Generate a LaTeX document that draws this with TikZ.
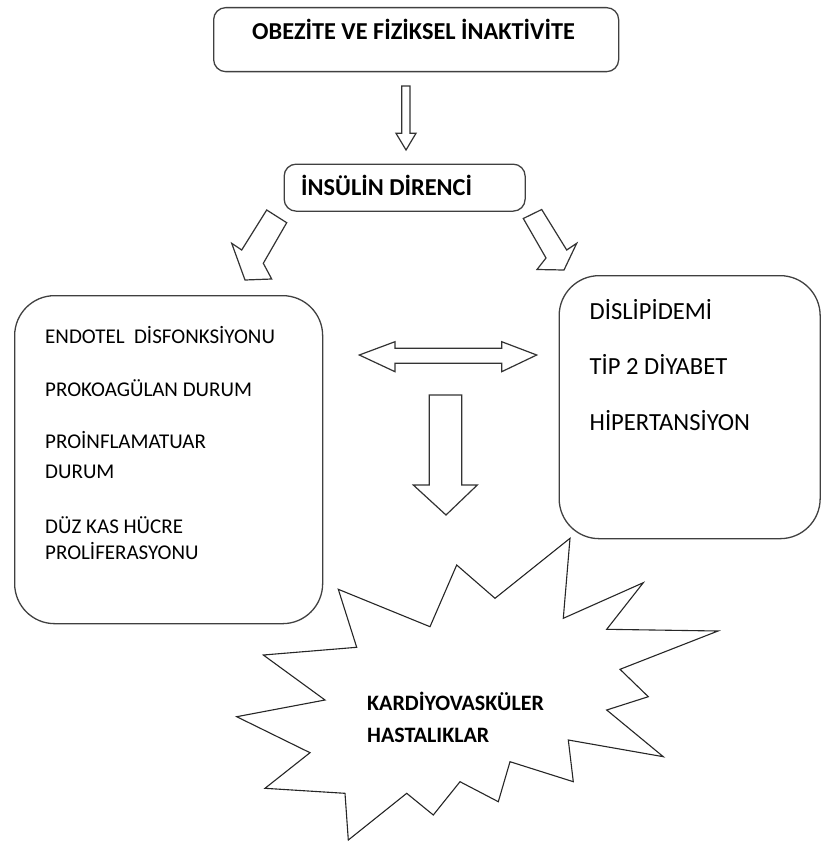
\documentclass[tikz,border=0pt]{standalone}
\usepackage{fontspec}
\setmainfont{Carlito}
\begin{document}
\begin{tikzpicture}[x=1pt,y=-1pt,
  smallbox/.style={draw=black!75, line width=1.3pt, rounded corners=12pt, inner sep=0pt, anchor=north west},
  bigbox/.style={draw=black!75, line width=1.3pt, rounded corners=40pt, inner sep=0pt, anchor=north west},
  blockarrow/.style={draw=black!80, line width=1.2pt, line join=miter, fill=white},
  burst/.style={draw=black!85, line width=1.1pt, line join=miter, fill=white},
  lefttxt/.style={anchor=base west, inner sep=0pt, font=\fontsize{21}{25}\selectfont},
  righttxt/.style={anchor=base west, inner sep=0pt, font=\fontsize{24.6}{28}\selectfont},
  boldtxt/.style={anchor=base west, inner sep=0pt, font=\bfseries\fontsize{24.3}{28}\selectfont},
  bursttxt/.style={anchor=base west, inner sep=0pt, font=\bfseries\fontsize{22}{26}\selectfont}]
\useasboundingbox (0,0) rectangle (821,843);

% boxes
\node[smallbox, minimum width=405pt, minimum height=64pt] (top) at (213,7) {};
\node[boldtxt] (toptxt) at (252,39.5) {OBEZİTE VE FİZİKSEL İNAKTİVİTE};

\node[smallbox, minimum width=241pt, minimum height=47pt] (ins) at (283.5,163.5) {};
\node[boldtxt] (instxt) at (301,195.5) {İNSÜLİN DİRENCİ};

\node[bigbox, minimum width=308pt, minimum height=328pt] (left) at (14,295) {};
\node[lefttxt] (l1) at (45,343) {ENDOTEL\ \ DİSFONKSİYONU};
\node[lefttxt] (l2) at (45,396.5) {PROKOAGÜLAN DURUM};
\node[lefttxt] (l3) at (45,448) {PROİNFLAMATUAR};
\node[lefttxt] (l4) at (45,478) {DURUM};
\node[lefttxt] (l5) at (45,533) {DÜZ KAS HÜCRE};
\node[lefttxt] (l6) at (45,559.5) {PROLİFERASYONU};

\node[bigbox, minimum width=261pt, minimum height=263pt] (right) at (558.5,275) {};
\node[righttxt] (r1) at (589.5,319) {DİSLİPİDEMİ};
\node[righttxt] (r2) at (589.5,374.5) {TİP 2 DİYABET};
\node[righttxt] (r3) at (589.5,430.5) {HİPERTANSİYON};

% arrows
\draw[blockarrow] (401.7,86) -- (410,86) -- (410,133.3) -- (416,133.3) -- (406,150)
  -- (396,133.3) -- (401.7,133.3) -- cycle;
\draw[blockarrow] (266.7,210) -- (286.7,222.7) -- (263.3,263.3) -- (271.7,279)
  -- (245,280) -- (231.7,243.3) -- (241.7,250) -- cycle;
\draw[blockarrow] (541.7,209.5) -- (523.3,218.5) -- (546,258) -- (537,269.5)
  -- (564,270) -- (576.7,243.3) -- (566.7,250) -- cycle;
\draw[blockarrow] (359.3,355) -- (395,341.7) -- (395,348.3) -- (501.7,348.3)
  -- (501.7,341.7) -- (536.7,355) -- (501.7,371.7) -- (501.7,363.3)
  -- (395,363.3) -- (395,371.7) -- cycle;
\draw[blockarrow] (429.3,395) -- (461.7,395) -- (461.7,485) -- (477.3,485)
  -- (446,515) -- (413.3,485) -- (429.3,485) -- cycle;

% starburst
\draw[burst] (456.7,565) -- (495,598.3) -- (570,538.3) -- (563.3,618.3)
  -- (643.3,582.7) -- (606.7,629.3) -- (718,631) -- (620,669.3)
  -- (648.3,696.7) -- (606.7,710) -- (663.3,756.7) -- (568.3,740)
  -- (573.3,781.7) -- (510,761.7) -- (498.3,801.7) -- (460,781.7)
  -- (433.3,815) -- (406.7,793.3) -- (348.3,840) -- (345,793.3)
  -- (265,788.3) -- (310,752.7) -- (236.7,716.7) -- (325,700)
  -- (263.3,655) -- (356.7,647.3) -- (338.3,589.3) -- (430,626.7) -- cycle;
\node[bursttxt] (k1) at (367,710.5) {KARDİYOVASKÜLER};
\node[bursttxt] (k2) at (367,742) {HASTALIKLAR};
\end{tikzpicture}
\end{document}
